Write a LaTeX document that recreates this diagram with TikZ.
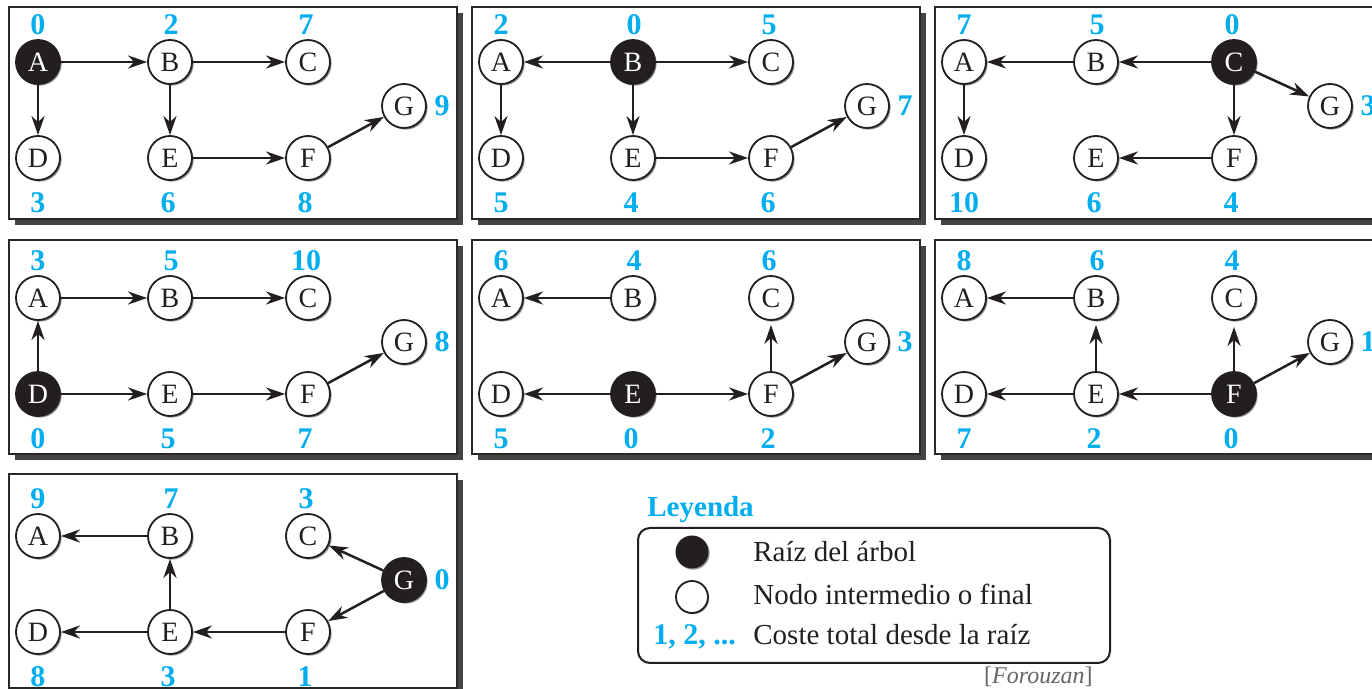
\documentclass[tikz,border=0pt]{standalone}
\usepackage{fontspec}
\setmainfont{Liberation Serif}
\usetikzlibrary{arrows.meta,shadows}
\definecolor{costc}{RGB}{0,174,239}
\definecolor{shadowc}{RGB}{68,68,68}
\definecolor{framec}{RGB}{40,40,40}
\definecolor{inkc}{RGB}{35,31,32}
\tikzset{
 nd/.style={circle, draw=inkc, line width=0.9pt, fill=white, text=inkc, minimum size=22pt, inner sep=0pt,
   font=\fontsize{14}{14}\selectfont,
   drop shadow={shadow xshift=0.8pt, shadow yshift=-0.8pt, fill=black!45, opacity=1}},
 rootnd/.style={nd, fill=inkc, text=white},
 cost/.style={text=costc, font=\bfseries\fontsize{15}{15}\selectfont, inner sep=0pt},
 edge/.style={line width=1.25pt, draw=inkc, -{Stealth[length=9.5pt,width=6.5pt,inset=3pt]}},
 frame/.style={draw=framec, line width=1pt, fill=white},
 fshadow/.style={fill=shadowc},
 legtext/.style={anchor=base west, text=inkc, font=\fontsize{14.5}{14.5}\selectfont, inner sep=0pt},
}
% #1 id, #2 x, #3 box top, #4 content origin y, #5 root letter, #6 box height
\newcommand\drawpanel[6]{%
 \fill[fshadow] ({#2+6},{#3+6}) rectangle ({#2+454},{#3+#6+6});
 \draw[frame] (#2,#3) rectangle ({#2+448},{#3+#6});
 \tikzset{n-A/.style={nd},n-B/.style={nd},n-C/.style={nd},n-D/.style={nd},
   n-E/.style={nd},n-F/.style={nd},n-G/.style={nd},n-#5/.style={rootnd}}
 \node[n-A] (#1A) at ({#2+29},{#4+55}) {A};
 \node[n-B] (#1B) at ({#2+161},{#4+55}) {B};
 \node[n-C] (#1C) at ({#2+299},{#4+55}) {C};
 \node[n-D] (#1D) at ({#2+29},{#4+151}) {D};
 \node[n-E] (#1E) at ({#2+161},{#4+151}) {E};
 \node[n-F] (#1F) at ({#2+299},{#4+151}) {F};
 \node[n-G] (#1G) at ({#2+395},{#4+99}) {G};
}
% #1 id, #2..#8 costs of A..G
\newcommand\drawcosts[8]{%
 \node[cost] (#1cA) at ([yshift=18.5pt]#1A) {#2};
 \node[cost] (#1cB) at ([yshift=18.5pt,xshift=0.5pt]#1B) {#3};
 \node[cost] (#1cC) at ([yshift=18.5pt,xshift=-1pt]#1C) {#4};
 \node[cost] (#1cD) at ([yshift=-22.5pt]#1D) {#5};
 \node[cost] (#1cE) at ([yshift=-22.5pt,xshift=-1pt]#1E) {#6};
 \node[cost] (#1cF) at ([yshift=-22.5pt,xshift=-1.5pt]#1F) {#7};
 \node[cost] (#1cG) at ([xshift=19pt]#1G) {#8};
}
\begin{document}
\begin{tikzpicture}[x=0.5pt,y=-0.5pt]
\useasboundingbox (0,0) rectangle (1372,689);
\clip (0,0) rectangle (1372,689);
\fill[white] (0,0) rectangle (1372,689);

% Panel 1: root A
\drawpanel{a}{9}{7}{7}{A}{212}
\drawcosts{a}{0}{2}{7}{3}{6}{8}{9}
\draw[edge] (aA) -- (aB);
\draw[edge] (aB) -- (aC);
\draw[edge] (aA) -- (aD);
\draw[edge] (aB) -- (aE);
\draw[edge] (aE) -- (aF);
\draw[edge] (aF) -- (aG);

% Panel 2: root B
\drawpanel{b}{472}{7}{7}{B}{212}
\drawcosts{b}{2}{0}{5}{5}{4}{6}{7}
\draw[edge] (bB) -- (bA);
\draw[edge] (bB) -- (bC);
\draw[edge] (bA) -- (bD);
\draw[edge] (bB) -- (bE);
\draw[edge] (bE) -- (bF);
\draw[edge] (bF) -- (bG);

% Panel 3: root C
\drawpanel{c}{935}{7}{7}{C}{212}
\drawcosts{c}{7}{5}{0}{10}{6}{4}{3}
\draw[edge] (cC) -- (cB);
\draw[edge] (cB) -- (cA);
\draw[edge] (cA) -- (cD);
\draw[edge] (cC) -- (cG);
\draw[edge] (cC) -- (cF);
\draw[edge] (cF) -- (cE);

% Panel 4: root D
\drawpanel{d}{9}{240}{243}{D}{214}
\drawcosts{d}{3}{5}{10}{0}{5}{7}{8}
\draw[edge] (dD) -- (dA);
\draw[edge] (dA) -- (dB);
\draw[edge] (dB) -- (dC);
\draw[edge] (dD) -- (dE);
\draw[edge] (dE) -- (dF);
\draw[edge] (dF) -- (dG);

% Panel 5: root E
\drawpanel{e}{472}{240}{243}{E}{214}
\drawcosts{e}{6}{4}{6}{5}{0}{2}{3}
\draw[edge] (eB) -- (eA);
\draw[edge] (eE) -- (eD);
\draw[edge] (eE) -- (eF);
\draw[edge, shorten >=2pt] (eF) -- (eC);
\draw[edge] (eF) -- (eG);

% Panel 6: root F
\drawpanel{f}{935}{240}{243}{F}{214}
\drawcosts{f}{8}{6}{4}{7}{2}{0}{1}
\draw[edge] (fB) -- (fA);
\draw[edge, shorten >=2pt] (fE) -- (fB);
\draw[edge] (fE) -- (fD);
\draw[edge] (fF) -- (fE);
\draw[edge, shorten >=3pt] (fF) -- (fC);
\draw[edge] (fF) -- (fG);

% Panel 7: root G
\drawpanel{g}{9}{474}{481}{G}{214}
\drawcosts{g}{9}{7}{3}{8}{3}{1}{0}
\draw[edge] (gB) -- (gA);
\draw[edge] (gE) -- (gB);
\draw[edge] (gE) -- (gD);
\draw[edge] (gF) -- (gE);
\draw[edge] (gG) -- (gC);
\draw[edge] (gG) -- (gF);

% Legend
\node[anchor=base west, text=costc, font=\bfseries\fontsize{14.5}{14.5}\selectfont, inner sep=0pt] (leyenda) at (647,517) {Leyenda};
\draw[draw=inkc, line width=1pt, rounded corners=6pt] (638,528) rectangle (1110,663);
\node[circle, fill=inkc, minimum size=16.5pt, inner sep=0pt,
  drop shadow={shadow xshift=0.6pt, shadow yshift=-0.6pt, fill=black!40, opacity=1}] (lroot) at (692,552) {};
\node[circle, draw=inkc, fill=white, line width=0.9pt, minimum size=16pt, inner sep=0pt,
  drop shadow={shadow xshift=0.6pt, shadow yshift=-0.6pt, fill=black!40, opacity=1}] (lnode) at (692,597) {};
\node[legtext] (t1) at (753,562) {Raíz del árbol};
\node[legtext] (t2) at (753,605) {Nodo intermedio o final};
\node[legtext] (t3) at (753,645) {Coste total desde la raíz};
\node[anchor=base west, text=costc, font=\bfseries\fontsize{15}{15}\selectfont, inner sep=0pt] (t0) at (653,645) {1, 2, ...};
\node[anchor=base east, text=black!60, font=\fontsize{12}{12}\selectfont, inner sep=0pt] (src) at (1093,683) {[\textit{Forouzan}]};
\end{tikzpicture}
\end{document}
